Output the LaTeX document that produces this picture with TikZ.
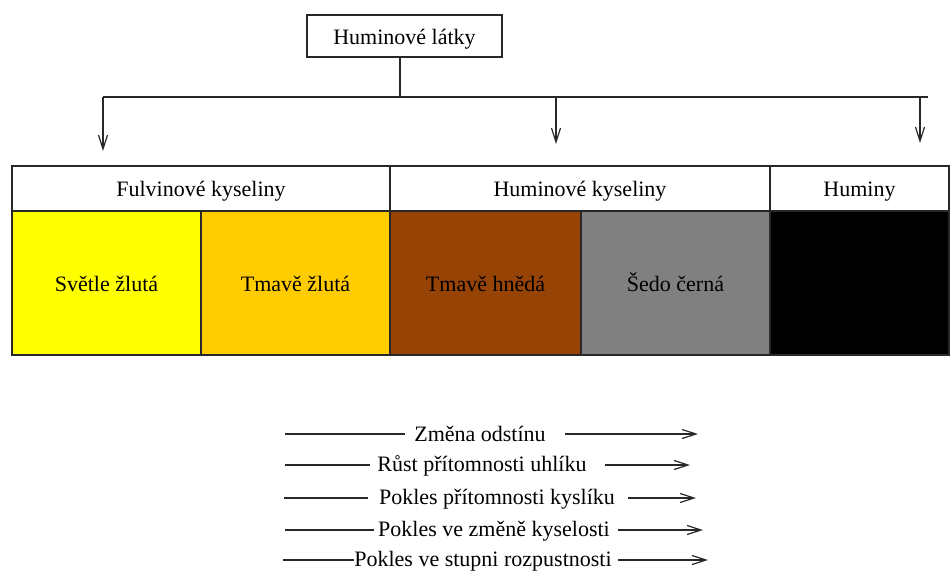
\documentclass[tikz,border=0pt]{standalone}
\usepackage{fontspec}
\setmainfont{Liberation Serif}
\usetikzlibrary{arrows.meta}
\definecolor{cyel}{RGB}{255,255,0}
\definecolor{corg}{RGB}{255,204,0}
\definecolor{cbrn}{RGB}{151,67,6}
\definecolor{cgry}{RGB}{128,128,128}
\definecolor{cline}{RGB}{40,40,40}
\begin{document}
\begin{tikzpicture}[x=1pt,y=-1pt,
  every node/.style={font=\fontsize{22}{24}\selectfont, inner sep=0pt, outer sep=0pt, text height=18pt, text depth=2pt},
  box/.style={draw=cline, line width=1.2pt},
  cell/.style={draw=cline, line width=1.2pt, minimum height=#1},
  conn/.style={draw=cline, line width=1.1pt},
  arr/.style={conn, -{Straight Barb[length=14pt,width=9pt,line width=1.2pt]}},
  harr/.style={conn, -{Straight Barb[length=14pt,width=9pt,line width=1.2pt]}}
]
\useasboundingbox (0,0) rectangle (950,571);
% top box
\node[box, minimum width=195pt, minimum height=42pt] (top) at (404.5,36) {Huminové látky};
\coordinate (j) at (400,97);
\coordinate (hl) at (103,97);
\coordinate (hm) at (556,97);
\coordinate (hr) at (920,97);
\coordinate (he) at (928,97);
\coordinate (tl) at (103,151);
\coordinate (tm) at (556,144);
\coordinate (tr) at (920,143);
\draw[conn] (top.south -| j) -- (j);
\draw[conn] (hl) -- (he);
\draw[arr] (hl) -- (tl);
\draw[arr] (hm) -- (tm);
\draw[arr] (hr) -- (tr);
% header row
\node[cell=45pt, minimum width=378pt] (fk) at (201,188.5) {Fulvinové kyseliny};
\node[cell=45pt, minimum width=380pt] (hk) at (580,188.5) {Huminové kyseliny};
\node[cell=45pt, minimum width=179pt] (hu) at (859.5,188.5) {Huminy};
% colour row
\node[cell=144pt, minimum width=189pt, fill=cyel] (c1) at (106.5,283) {Světle žlutá};
\node[cell=144pt, minimum width=189pt, fill=corg] (c2) at (295.5,283) {Tmavě žlutá};
\node[cell=144pt, minimum width=191pt, fill=cbrn] (c3) at (485.5,283) {Tmavě hnědá};
\node[cell=144pt, minimum width=189pt, fill=cgry] (c4) at (675.5,283) {Šedo černá};
\node[cell=144pt, minimum width=179pt, fill=black] (c5) at (859.5,283) {};
% trend arrows
\node (t1) at (480,433) {Změna odstínu};
\node (t2) at (482,463) {Růst přítomnosti uhlíku};
\node (t3) at (497,496) {Pokles přítomnosti kyslíku};
\node (t4) at (494,528) {Pokles ve změně kyselosti};
\node (t5) at (483,558) {Pokles ve stupni rozpustnosti};
\coordinate (s1) at (285,434); \coordinate (e1) at (698,434);
\coordinate (s2) at (285,465); \coordinate (e2) at (690,465);
\coordinate (s3) at (284,498); \coordinate (e3) at (696,498);
\coordinate (s4) at (285,530); \coordinate (e4) at (703,530);
\coordinate (s5) at (283,560); \coordinate (e5) at (708,560);
\draw[conn] (s1) -- (s1 -| 405,0); \draw[harr] (565,0 |- e1) -- (e1);
\draw[conn] (s2) -- (s2 -| 370,0); \draw[harr] (605,0 |- e2) -- (e2);
\draw[conn] (s3) -- (s3 -| 368,0); \draw[harr] (628,0 |- e3) -- (e3);
\draw[conn] (s4) -- (s4 -| 374,0); \draw[harr] (618,0 |- e4) -- (e4);
\draw[conn] (s5) -- (s5 -| t5.west); \draw[harr] (618,0 |- e5) -- (e5);
\end{tikzpicture}
\end{document}
